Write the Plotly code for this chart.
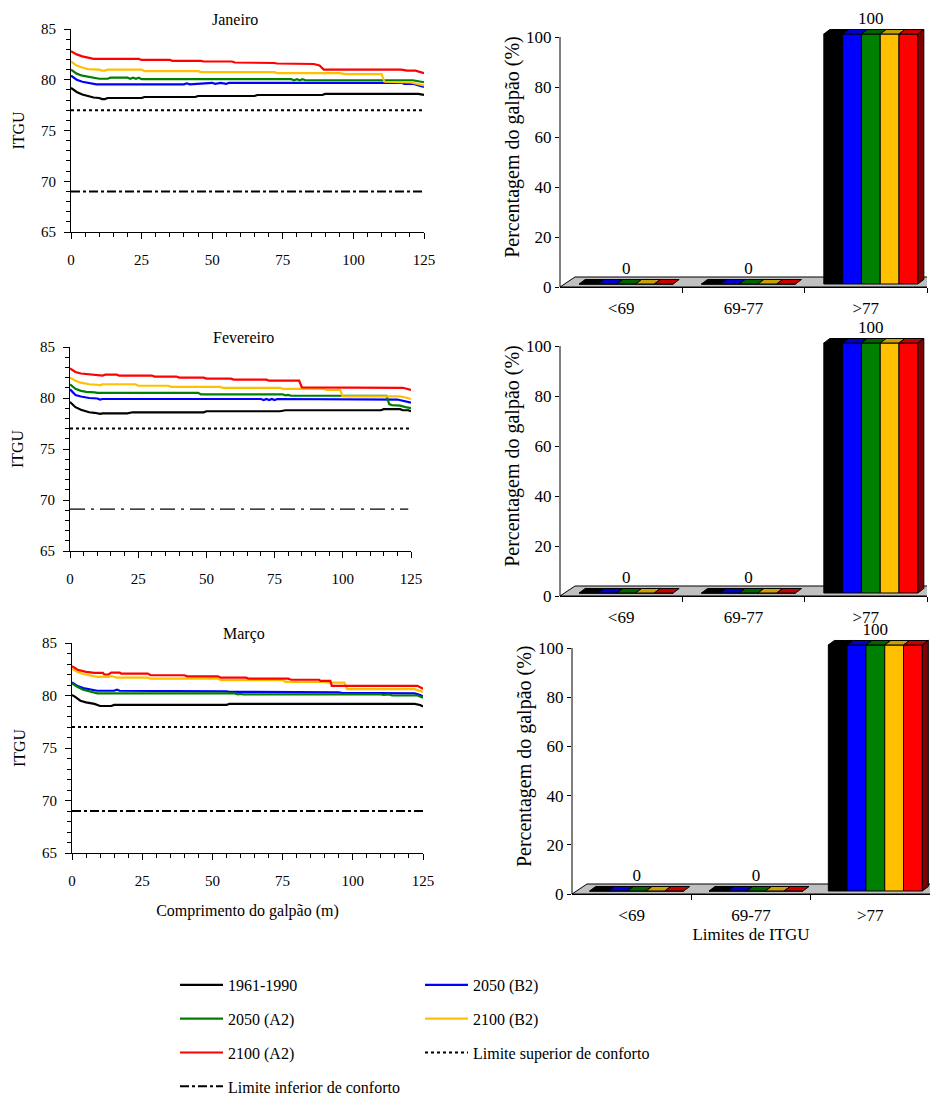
import plotly.graph_objects as go

FONT = "Liberation Serif"
W, H = 930, 1102

# ---------------- data ----------------
series_names = ["1961-1990", "2050 (B2)", "2050 (A2)", "2100 (B2)", "2100 (A2)"]
series_colors = ["#000000", "#0000FF", "#008000", "#FFC000", "#FF0000"]
top_colors = ["#000000", "#0000C8", "#006400", "#C8A000", "#C80000"]
side_color = "#800000"
month_names = ["Janeiro", "Fevereiro", "Março"]

limite_superior = 77
limite_inferior = 69

# Janeiro
jan_x_1961 = [0, 2, 4, 6, 8, 10, 11, 12, 13, 25, 26, 44, 45, 65, 66, 89, 90, 123, 125]
jan_y_1961 = [79.2, 78.8, 78.55, 78.4, 78.25, 78.2, 78.1, 78.1, 78.2, 78.2, 78.3, 78.3, 78.4, 78.4, 78.5, 78.5, 78.6, 78.6, 78.5]
jan_x_b2_2050 = [0, 2, 4, 7, 9, 40, 41, 42, 45, 47, 48, 50, 51, 53, 55, 56, 117, 118, 121, 123, 125]
jan_y_b2_2050 = [80.4, 80.0, 79.8, 79.65, 79.55, 79.55, 79.65, 79.55, 79.6, 79.65, 79.6, 79.7, 79.6, 79.7, 79.6, 79.7, 79.7, 79.6, 79.6, 79.45, 79.3]
jan_x_a2_2050 = [0, 2, 4, 6, 9, 10, 13, 14, 20, 21, 22, 23, 24, 25, 78, 79, 80, 81, 82, 83, 118, 121, 123, 125]
jan_y_a2_2050 = [81.0, 80.6, 80.4, 80.3, 80.2, 80.1, 80.1, 80.2, 80.2, 80.1, 80.2, 80.1, 80.2, 80.06, 80.06, 79.95, 80.05, 79.95, 80.05, 79.95, 79.95, 79.95, 79.85, 79.75]
jan_x_b2_2100 = [0, 2, 4, 6, 10, 11, 12, 13, 25, 26, 45, 46, 72, 73, 95, 97, 110, 111, 120, 125]
jan_y_b2_2100 = [81.8, 81.4, 81.2, 81.05, 81.0, 80.9, 80.9, 81.0, 81.0, 80.85, 80.85, 80.75, 80.75, 80.65, 80.65, 80.55, 80.55, 79.8, 79.75, 79.45]
jan_x_a2_2100 = [0, 2, 4, 6, 8, 24, 25, 35, 36, 46, 47, 57, 58, 72, 73, 86, 88, 89.5, 117, 119, 122, 125]
jan_y_a2_2100 = [82.8, 82.5, 82.3, 82.2, 82.05, 82.05, 81.95, 81.95, 81.85, 81.85, 81.8, 81.8, 81.7, 81.65, 81.6, 81.55, 81.4, 81.0, 81.0, 80.9, 80.9, 80.65]

# Fevereiro
fev_x_1961 = [0, 2, 4, 7, 9, 10, 11, 12, 21, 23, 49, 50, 77, 79, 114, 115, 121, 122, 124, 125]
fev_y_1961 = [79.6, 79.1, 78.85, 78.6, 78.55, 78.5, 78.45, 78.5, 78.5, 78.6, 78.6, 78.7, 78.7, 78.8, 78.8, 78.9, 78.9, 78.8, 78.8, 78.7]
fev_x_b2_2050 = [0, 2, 4, 7, 10, 11, 12, 70, 71, 72, 73, 74, 75, 76, 120, 122, 125]
fev_y_b2_2050 = [80.85, 80.3, 80.15, 80.0, 79.95, 79.85, 79.9, 79.9, 79.8, 79.9, 79.8, 79.9, 79.8, 79.9, 79.85, 79.75, 79.55]
fev_x_a2_2050 = [0, 2, 4, 6, 9, 10, 47, 48, 78, 79, 80, 81, 116, 117, 118, 121, 123, 125]
fev_y_a2_2050 = [81.35, 80.9, 80.7, 80.6, 80.55, 80.5, 80.5, 80.35, 80.35, 80.25, 80.3, 80.22, 80.22, 79.4, 79.3, 79.25, 79.1, 79.0]
fev_x_b2_2100 = [0, 2, 4, 7, 10, 11, 12, 24, 25, 36, 37, 55, 56, 77, 78, 93, 94, 99, 100, 121, 123, 125]
fev_y_b2_2100 = [82.0, 81.7, 81.5, 81.35, 81.3, 81.25, 81.35, 81.35, 81.2, 81.2, 81.1, 81.1, 81.0, 81.0, 80.9, 80.9, 80.8, 80.8, 80.15, 80.15, 80.05, 79.9]
fev_x_a2_2100 = [0, 2, 4, 7, 10, 12, 13, 17, 18, 30, 31, 39, 40, 49, 50, 59, 60, 72, 73, 84, 85, 120, 122, 125]
fev_y_a2_2100 = [82.9, 82.55, 82.4, 82.3, 82.2, 82.2, 82.3, 82.3, 82.2, 82.2, 82.1, 82.1, 82.0, 82.0, 81.9, 81.9, 81.8, 81.8, 81.7, 81.7, 81.05, 81.05, 81.0, 80.8]

# Março
mar_x_1961 = [0, 1, 3, 5, 8, 10, 14, 15, 55, 56, 122, 124, 125]
mar_y_1961 = [80.05, 79.9, 79.5, 79.35, 79.2, 79.0, 79.0, 79.1, 79.1, 79.2, 79.2, 79.1, 78.95]
mar_x_b2_2050 = [0, 2, 4, 7, 9, 15, 16, 17, 51, 52, 53, 55, 56, 94, 95, 96, 122, 124, 125]
mar_y_b2_2050 = [81.25, 80.9, 80.7, 80.55, 80.45, 80.45, 80.55, 80.45, 80.45, 80.38, 80.45, 80.4, 80.35, 80.35, 80.3, 80.25, 80.2, 80.05, 79.9]
mar_x_a2_2050 = [0, 2, 4, 7, 9, 58, 59, 60, 61, 110, 111, 113, 114, 123, 125]
mar_y_a2_2050 = [81.15, 80.8, 80.55, 80.35, 80.2, 80.2, 80.1, 80.15, 80.1, 80.1, 80.05, 80.1, 80.0, 80.0, 79.8]
mar_x_b2_2100 = [0, 2, 4, 6, 9, 13, 14, 15, 16, 27, 28, 52, 53, 75, 76, 90, 91, 97, 98, 122, 125]
mar_y_b2_2100 = [82.55, 82.25, 82.05, 81.93, 81.78, 81.78, 81.85, 81.78, 81.7, 81.7, 81.6, 81.6, 81.47, 81.47, 81.3, 81.3, 81.23, 81.23, 80.6, 80.6, 80.35]
mar_x_a2_2100 = [0, 2, 5, 8, 11, 11.5, 13, 14, 17, 17.5, 27, 28, 40, 41, 52, 53, 62, 63, 77, 78, 88, 88.5, 92, 92.5, 123, 125]
mar_y_a2_2100 = [82.8, 82.45, 82.25, 82.15, 82.15, 82.0, 82.0, 82.18, 82.18, 82.08, 82.08, 81.93, 81.93, 81.83, 81.83, 81.7, 81.7, 81.6, 81.6, 81.5, 81.5, 81.4, 81.4, 80.92, 80.92, 80.65]

# Percentagem do galpão em cada faixa de ITGU
categorias = ["<69", "69-77", ">77"]
pct_jan = [[0, 0, 100], [0, 0, 100], [0, 0, 100], [0, 0, 100], [0, 0, 100]]
pct_fev = [[0, 0, 100], [0, 0, 100], [0, 0, 100], [0, 0, 100], [0, 0, 100]]
pct_mar = [[0, 0, 100], [0, 0, 100], [0, 0, 100], [0, 0, 100], [0, 0, 100]]

line_data = [
    [(jan_x_1961, jan_y_1961), (jan_x_b2_2050, jan_y_b2_2050), (jan_x_a2_2050, jan_y_a2_2050),
     (jan_x_b2_2100, jan_y_b2_2100), (jan_x_a2_2100, jan_y_a2_2100)],
    [(fev_x_1961, fev_y_1961), (fev_x_b2_2050, fev_y_b2_2050), (fev_x_a2_2050, fev_y_a2_2050),
     (fev_x_b2_2100, fev_y_b2_2100), (fev_x_a2_2100, fev_y_a2_2100)],
    [(mar_x_1961, mar_y_1961), (mar_x_b2_2050, mar_y_b2_2050), (mar_x_a2_2050, mar_y_a2_2050),
     (mar_x_b2_2100, mar_y_b2_2100), (mar_x_a2_2100, mar_y_a2_2100)],
]
pct_data = [pct_jan, pct_fev, pct_mar]

# ---------------- layout geometry (pixels) ----------------
left_geo = [dict(x0=71, x1=424, y0=29, y1=232, tx=235),
            dict(x0=70, x1=411, y0=347, y1=551, tx=243),
            dict(x0=72, x1=423, y0=643, y1=853, tx=244)]
right_geo = [dict(x0=560, x1=927, ybot=287, ppy=2.5),
             dict(x0=560, x1=927, ybot=596, ppy=2.5),
             dict(x0=572, x1=930, ybot=894, ppy=2.46)]
XLEN = 125
YMAX_BAR = 112

legend_col = {"1961-1990": "legend", "2050 (A2)": "legend", "2100 (A2)": "legend",
              "2050 (B2)": "legend2", "2100 (B2)": "legend2"}

fig = go.Figure()
layout = dict(template="none", width=W, height=H, margin=dict(l=0, r=0, t=0, b=0, autoexpand=False),
              paper_bgcolor="white", plot_bgcolor="white", barmode="overlay",
              font=dict(family=FONT, size=15, color="black"), showlegend=True,
              annotations=[], shapes=[])


def xdom(a, b):
    return [a / W, b / W]


def ydom(top, bottom):
    return [1 - bottom / H, 1 - top / H]


# ---------------- line panels ----------------
for m in range(3):
    g = left_geo[m]
    n = m + 1
    xa, ya = ("x" if n == 1 else f"x{n}"), ("y" if n == 1 else f"y{n}")
    for i, name in enumerate(series_names):
        xs, ys = line_data[m][i]
        fig.add_trace(go.Scatter(
            x=xs, y=ys, mode="lines", name=name, legendgroup=name,
            legend=legend_col[name], showlegend=(m == 0),
            line=dict(color=series_colors[i], width=2.2),
            xaxis=xa, yaxis=ya, hoverinfo="skip"))
    fig.add_trace(go.Scatter(
        x=[0, XLEN], y=[limite_superior, limite_superior], mode="lines",
        name="Limite superior de conforto", legendgroup="sup", legend="legend2",
        showlegend=(m == 0), line=dict(color="black", width=2, dash="dot"),
        xaxis=xa, yaxis=ya, hoverinfo="skip"))
    fig.add_trace(go.Scatter(
        x=[0, XLEN - (1 if m == 1 else 0)],
        y=[limite_inferior, limite_inferior] if m != 1 else [limite_inferior + 0.1] * 2,
        mode="lines",
        name="Limite inferior de conforto", legendgroup="inf", legend="legend",
        showlegend=(m == 0),
        line=dict(color="black", width=(1.2 if m == 1 else 2),
                  dash=("longdashdot" if m == 1 else "dashdot")),
        xaxis=xa, yaxis=ya, hoverinfo="skip"))

    axx = dict(domain=xdom(g["x0"], g["x1"]), range=[0, XLEN], anchor=ya, automargin=False,
               tickmode="linear", tick0=0, dtick=25, ticks="outside", ticklen=6,
               tickcolor="black", showline=True, linecolor="black", linewidth=1,
               showgrid=False, zeroline=False, tickfont=dict(size=15),
               ticklabelstandoff=8,
               minor=dict(ticks="outside", ticklen=4, dtick=5, tick0=0, tickcolor="black", showgrid=False))
    axy = dict(domain=ydom(g["y0"], g["y1"]), range=[65, 85], anchor=xa, automargin=False,
               tickmode="linear", tick0=65, dtick=5, ticks="outside", ticklen=6,
               tickcolor="black", showline=True, linecolor="black", linewidth=1,
               showgrid=False, zeroline=False, tickfont=dict(size=15),
               ticklabelstandoff=5,
               title=dict(text="ITGU", font=dict(size=16), standoff=12),
               minor=dict(ticks="outside", ticklen=4, dtick=1, tick0=65, tickcolor="black", showgrid=False))
    if m == 2:
        axx["title"] = dict(text="Comprimento do galpão (m)", font=dict(size=16), standoff=16)
    layout["xaxis" if n == 1 else f"xaxis{n}"] = axx
    layout["yaxis" if n == 1 else f"yaxis{n}"] = axy
    layout["annotations"].append(dict(
        text=month_names[m], xref="paper", yref="paper",
        x=g["tx"] / W, y=1 - (g["y0"] - 9) / H,
        showarrow=False, font=dict(size=16), xanchor="center", yanchor="middle"))

# ---------------- pseudo-3D bar panels ----------------
for m in range(3):
    g = right_geo[m]
    n = m + 4
    xa, ya = f"x{n}", f"y{n}"
    ppx = (g["x1"] - g["x0"]) / 3.0
    ppy = g["ppy"]
    ytop_px = g["ybot"] - YMAX_BAR * ppy
    # depth offsets converted from pixels to data units
    fdx, fdy = 15 / ppx, 10 / ppy           # floor depth
    ox, oy = 5 / ppx, 3 / ppy               # bar front offset on the floor
    bdx, bdy = 6 / ppx, 4.5 / ppy           # bar depth
    grp = 94 / ppx
    w = grp / 5

    # floor
    layout["shapes"].append(dict(
        type="path", xref=xa, yref=ya, layer="below",
        path=f"M -0.5,0 L {-0.5 + fdx},{fdy} L {2.5 + fdx},{fdy} L 2.5,0 Z",
        fillcolor="#C0C0C0", line=dict(color="black", width=1)))
    # y axis line from 0 to 100
    layout["shapes"].append(dict(
        type="line", xref=f"{xa} domain", yref=ya, x0=0, x1=0, y0=0, y1=100,
        line=dict(color="black", width=1)))

    vals_all = pct_data[m]
    for i, name in enumerate(series_names):
        vals = vals_all[i]
        xs = [c + ox - grp / 2 + (i + 0.5) * w for c in range(len(categorias))]
        fig.add_trace(go.Bar(
            x=xs, y=vals, base=oy, width=w, marker=dict(color=series_colors[i],
            line=dict(color="black", width=1)), xaxis=xa, yaxis=ya,
            showlegend=False, hoverinfo="skip"))
        # top faces
        px, py = [], []
        for xc, v in zip(xs, vals):
            x0, x1 = xc - w / 2, xc + w / 2
            yt = v + oy
            px += [x0, x0 + bdx, x1 + bdx, x1, x0, None]
            py += [yt, yt + bdy, yt + bdy, yt, yt, None]
        fig.add_trace(go.Scatter(
            x=px, y=py, mode="lines", fill="toself", fillcolor=top_colors[i],
            line=dict(color="black", width=1), xaxis=xa, yaxis=ya,
            showlegend=False, hoverinfo="skip"))
        if i == len(series_names) - 1:
            sx, sy = [], []
            for xc, v in zip(xs, vals):
                if v <= 0:
                    continue
                x1 = xc + w / 2
                yt = v + oy
                sx += [x1, x1 + bdx, x1 + bdx, x1, x1, None]
                sy += [oy, oy + bdy, yt + bdy, yt, oy, None]
            fig.add_trace(go.Scatter(
                x=sx, y=sy, mode="lines", fill="toself", fillcolor=side_color,
                line=dict(color="black", width=1), xaxis=xa, yaxis=ya,
                showlegend=False, hoverinfo="skip"))
    # value labels
    maxv = [max(vals_all[i][c] for i in range(len(series_names))) for c in range(len(categorias))]
    fig.add_trace(go.Scatter(
        x=[c + ox for c in range(len(categorias))], y=[v + 7 for v in maxv],
        text=[str(int(v)) for v in maxv], mode="text", textfont=dict(size=17),
        xaxis=xa, yaxis=ya, showlegend=False, hoverinfo="skip", cliponaxis=False))

    axx = dict(domain=xdom(g["x0"], g["x1"]), range=[-0.5, 2.5], anchor=ya, automargin=False,
               tickmode="array", tickvals=[0, 1, 2], ticktext=categorias, ticks="",
               showline=True, linecolor="black", linewidth=1, showgrid=False, zeroline=False,
               tickfont=dict(size=17), ticklabelstandoff=6,
               minor=dict(tickmode="array", tickvals=[0.5, 1.5, 2.5], ticks="outside",
                          ticklen=5, tickcolor="black", showgrid=False))
    axy = dict(domain=ydom(ytop_px, g["ybot"]), range=[0, YMAX_BAR], anchor=xa, automargin=False,
               tickmode="array", tickvals=[0, 20, 40, 60, 80, 100], ticks="outside",
               ticklen=4, tickcolor="black", showline=False, showgrid=False, zeroline=False,
               tickfont=dict(size=17),
               title=dict(text="Percentagem do galpão (%)", font=dict(size=20), standoff=1))
    if m == 2:
        axx["title"] = dict(text="Limites de ITGU", font=dict(size=17), standoff=0)
    layout[f"xaxis{n}"] = axx
    layout[f"yaxis{n}"] = axy

layout["legend"] = dict(x=175 / W, y=1 - 968 / H, xanchor="left", yanchor="top",
                        font=dict(size=16, family=FONT), tracegroupgap=10,
                        itemwidth=43, bgcolor="rgba(0,0,0,0)")
layout["legend2"] = dict(x=420 / W, y=1 - 968 / H, xanchor="left", yanchor="top",
                         font=dict(size=16, family=FONT), tracegroupgap=10,
                         itemwidth=43, bgcolor="rgba(0,0,0,0)")

fig.update_layout(**layout)
fig.write_html("out.html")
